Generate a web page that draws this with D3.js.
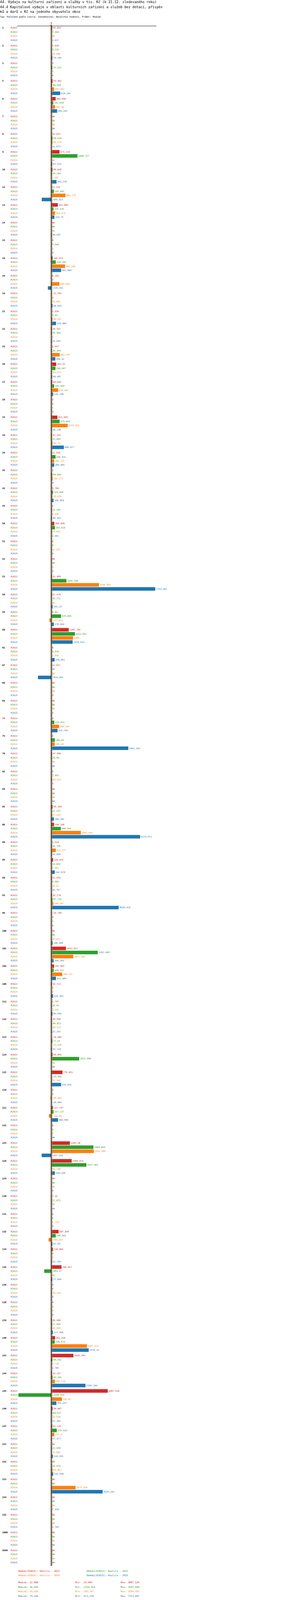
<!DOCTYPE html>
<html lang="cs">
<head>
  <meta charset="UTF-8">
  <title>44.4 Kapitálové výdaje v oblasti kulturních zařízení a služeb</title>
  <script src="https://d3js.org/d3.v7.min.js"></script>
  <style>
    body {
      margin: 0;
      background: #fff;
      overflow: hidden;
    }
    svg {
      display: block;
      font-family: "DejaVu Sans Mono", monospace;
    }
  </style>
</head>
<body>
  <script>

    const titleLines = [
      "44. Výdaje na kulturní zařízení a služby v tis. Kč (k 31.12. sledovaného roku)",
      "44.4 Kapitálové výdaje v oblasti kulturních zařízení a služeb bez dotací, příspěv",
      "ků a darů v Kč na jednoho obyvatele obce"
    ];
    const subtitle = "Typ: Počítaný podle vzorce, Vyhodnocení: Absolutní hodnoty, Průměr: Medián";

    const periods = ["R2022", "R2023", "R2024", "R2025"];
    const colors = ["#d62728", "#2ca02c", "#ff7f0e", "#1f77b4"];
    const highlighted = "74";

    const groups = [
      "1", "2", "3", "5", "6", "7", "8", "9", "10", "12",
      "13", "14", "15", "16", "18", "19", "21", "23", "25", "26",
      "27", "28", "33", "34", "39", "41", "42", "43", "50", "51",
      "52", "53", "56", "58", "60", "61", "67", "68", "69", "74",
      "75", "76", "82", "84", "85", "86", "88", "89", "90", "93",
      "96", "100", "101", "102", "106", "111", "112", "113", "114", "115",
      "118", "121", "122", "125", "126", "129", "130", "131", "132", "134",
      "135", "136", "138", "139", "140", "141", "144", "145", "146", "147",
      "151", "152", "153", "154", "155", "1000", "9999"
    ];

    // null = NA
    const r2022 = [
      64.093, 2.038, 0, 93.362, 303.686, null, 10.923, 571.139, 88.036, 11.312,
      452.605, null, 0, 104.473, 0.163, -21.916, 2.038, 28.337, 2.657, 343.42,
      69.095, 0, 423.659, 47.252, 11.916, 0, 9.709, 0, 209.968, 0,
      null, 51.085, 27.478, 5.93, 1202.793, 0, 11.871, null, null, 0,
      0, 47.986, 0, null, 95.189, 190.188, 2.618, 129.832, 22.429, 35.178,
      -10.794, null, 1013.811, 193.482, 28.713, 2.747, 39.556, -24.404, 90.065, 776.051,
      0, 117.747, 0, 1283.38, 1408.015, null, 7.25, 0, 507.588, 120.803,
      706.827, 0, 0, 28.998, 262.818, 1528.186, 52.327, 3887.526, 98.007, 61.135,
      null, null, null, null, null, null, null
    ];
    const r2023 = [
      7.954, 6.225, 73.123, 48.958, 142.019, null, 90.619, 1808.117, 28.184, 182.891,
      155.535, null, 7.683, 310.285, 0, 0, 0.64, 19.504, 36.965, 290.567,
      195.828, 0, 579.054, 23.803, 298.031, 68.583, 124.458, 13.245, 253.619, 0,
      null, 1045.388, 10.712, 674.464, 1631.051, 9.524, null, null, null, 210.822,
      249.03, 25.69, 7.047, null, 12.275, 660.441, 24.735, 14.003, 6.901, 87.133,
      0, null, 3202.609, 168.217, 0, 18.52, 49.013, 77.23, 1921.499, -29.448,
      0, 157.117, 0, 2904.844, 2417.364, null, 17.073, 0, 309.801, 0,
      -483.37, 0, 0, 27.856, 238.674, 84.532, 93.255, -2259.424, 60.627, 379.918,
      22.828, 18.479, null, null, null, null, null
    ];
    const r2024 = [
      null, 14.808, 0, 197.961, 256.49, null, 86.313, null, 7.88, 981.779,
      263.479, null, 0, 951.209, 559.926, 13.681, 89.287, 0, 582.143, 54.374,
      476.462, 0, 1133.591, 95.79, 204.137, 102.271, 79.475, 4.596, 14.663, 12.357,
      0, 3284.955, null, -127.072, 1500, 3.036, null, null, null, 540.183,
      240.49, null, 63.072, null, 27.816, 2042.644, 312.277, 3.981, 10.41, 148.307,
      0, 18.021, 1517.432, 760.737, 0, 0.342, 44.222, -22.598, null, 22.765,
      -48.366, -158.96, 0, 2932.988, 35.189, null, null, 1.729, -183.197, 0,
      null, 39.426, 0, 24.656, 2457.513, 6.734, 256.128, 735.92, 15.538, 211.3,
      -8.998, 85.467, 1675.339, null, null, null, null
    ];
    const r2025 = [
      1.017, 79.166, 0, 618.181, 405.032, null, 11.673, 62.379, 363.235, -655.313,
      216.75, 30.497, 0, 681.886, -229.163, 90.993, 329.009, 14.493, 280.52, 60.487,
      135.768, 0, 38.138, 868.877, 200.984, 0, 156.059, 49.931, 3.691, 0,
      0, 7153.607, 101.22, 178.044, 1470.519, 230.861, -913.256, 0, 0, 433.703,
      5302.162, null, 0, null, 180.282, 6115.671, 24.894, 242.978, 10.767, 4639.419,
      0, 100.968, 166.283, 322.449, 129.391, 85.654, 23.253, 43.718, null, 676.935,
      -20.004, 468.905, null, -657.534, 250.438, 0, null, 0, 81.59, 33.769,
      77.604, 0, 0, 117.308, 2578.22, 1.785, 2356.199, 353.537, 27.362, 37.977,
      118.335, 134.599, 3534.162, 7.654, 1.702, null, null
    ];

    const legendLabels = [
      "Období[R2022]: Realita - 2022",
      "Období[R2023]: Realita - 2023",
      "Období[R2024]: Realita - 2024",
      "Období[R2025]: Realita - 2025"
    ];
    const medians = [32.088, 36.965, 39.426, 79.166];
    const mins = [-24.404, -2259.424, -183.197, -913.256];
    const maxs = [3887.526, 3202.609, 3284.955, 7153.607];

    const series = [r2022, r2023, r2024, r2025];

    const fmt = v => v === null ? "NA" : String(+v.toFixed(3)).replace(".", ",");

    const width = 750, height = 7050;
    const axisY = 114, groupStep = 78;

    // okno bývá nižší než graf, celý obrázek se pak zmenší, aby se vešel
    const k = Math.min(1, (window.innerHeight || height) / height);

    const svg = d3.select("body")
                  .append("svg")
                  .attr("width", width * k)
                  .attr("height", height * k)
                  .attr("viewBox", `0 0 ${width} ${height}`)
                  .attr("preserveAspectRatio", "xMinYMin meet");

    // titulek
    svg.selectAll("text.title")
       .data(titleLines)
       .enter()
       .append("text")
       .attr("class", "title")
       .attr("x", 0)
       .attr("y", (d, i) => 13.5 + i * 22)
       .attr("font-size", "14.7px")
       .attr("fill", "#000")
       .text(d => d);

    svg.append("text")
       .attr("x", 0)
       .attr("y", 77)
       .attr("font-size", "10px")
       .attr("fill", "#000")
       .text(subtitle);

    const allValues = series.flat().filter(v => v !== null);
    const x = d3.scaleLinear()
                .domain([d3.min(allValues), d3.max(allValues)])
                .range([81, 684]);
    const x0 = x(0);

    const yGroup = d3.scaleBand()
                     .domain(groups)
                     .range([axisY, axisY + groups.length * groupStep - 6])
                     .paddingInner(6 / groupStep);
    const yRow = d3.scaleBand()
                   .domain(periods)
                   .range([0, yGroup.bandwidth()])
                   .paddingInner(0);

    const rows = [];
    groups.forEach((g, gi) => {
      periods.forEach((p, pi) => {
        rows.push({ group: g, period: p, pi: pi, value: series[pi][gi] });
      });
    });
    const rowY = d => yGroup(d.group) + yRow(d.period);
    const rowMid = d => rowY(d) + yRow.bandwidth() / 2;

    // osa
    const axis = svg.append("g")
                    .attr("transform", `translate(0,${axisY})`)
                    .call(d3.axisTop(x).tickValues([0]).tickSize(6).tickSizeOuter(0).tickFormat(d => "0"));
    axis.select(".domain")
        .attr("d", "M75,0.5H689")
        .attr("stroke", "#000")
        .attr("stroke-width", 1.6);
    axis.selectAll("text")
        .attr("font-family", "DejaVu Sans Mono, monospace")
        .attr("font-size", "10px")
        .attr("fill", "#000");

    // popisky skupin
    svg.selectAll("text.group")
       .data(groups)
       .enter()
       .append("text")
       .attr("class", "group")
       .attr("x", 10)
       .attr("y", d => yGroup(d) + yRow.bandwidth() / 2)
       .attr("dy", "0.35em")
       .attr("font-size", "10px")
       .attr("font-weight", "bold")
       .attr("fill", d => d === highlighted ? "#ff0000" : "#000")
       .text(d => d);

    svg.selectAll("text.period")
       .data(rows)
       .enter()
       .append("text")
       .attr("class", "period")
       .attr("x", 47)
       .attr("y", rowMid)
       .attr("dy", "0.35em")
       .attr("font-size", "10px")
       .attr("fill", d => colors[d.pi])
       .text(d => d.period);

    // sloupce
    const barPad = 1.2;
    svg.selectAll("rect.bar")
       .data(rows.filter(d => d.value !== null && d.value !== 0))
       .enter()
       .append("rect")
       .attr("class", "bar")
       .attr("x", d => Math.min(x(d.value), x0))
       .attr("y", d => rowY(d) + barPad)
       .attr("width", d => Math.abs(x(d.value) - x0))
       .attr("height", yRow.bandwidth() - 2 * barPad)
       .attr("fill", d => colors[d.pi]);

    // mediány a nulová čára
    const lineBottom = axisY + groups.length * groupStep;
    svg.selectAll("line.median")
       .data(medians)
       .enter()
       .append("line")
       .attr("class", "median")
       .attr("x1", d => x(d))
       .attr("x2", d => x(d))
       .attr("y1", axisY)
       .attr("y2", lineBottom)
       .attr("stroke", (d, i) => colors[i])
       .attr("stroke-width", 1.5)
       .attr("stroke-dasharray", (d, i) => i === 3 ? "5,3" : null);

    svg.append("line")
       .attr("x1", x0 - 0.6)
       .attr("x2", x0 - 0.6)
       .attr("y1", axisY - 6)
       .attr("y2", lineBottom)
       .attr("stroke", "#000")
       .attr("stroke-width", 2.4);

    svg.selectAll("text.value")
       .data(rows)
       .enter()
       .append("text")
       .attr("class", "value")
       .attr("x", d => (d.value === null ? x0 : Math.max(x(d.value), x0)) + 3.5)
       .attr("y", rowMid)
       .attr("dy", "0.35em")
       .attr("font-size", "10px")
       .attr("fill", d => colors[d.pi])
       .text(d => fmt(d.value));

    // legenda
    svg.selectAll("text.legend")
       .data(legendLabels)
       .enter()
       .append("text")
       .attr("class", "legend")
       .attr("x", (d, i) => i % 2 === 0 ? 80 : 381)
       .attr("y", (d, i) => 6926 + Math.floor(i / 2) * 20)
       .attr("font-size", "10.5px")
       .attr("fill", (d, i) => colors[i])
       .text(d => d);

    const stats = svg.selectAll("g.stats")
                     .data(periods)
                     .enter()
                     .append("g")
                     .attr("class", "stats")
                     .attr("transform", (d, i) => `translate(0,${6976 + i * 20})`)
                     .attr("font-size", "10.5px")
                     .attr("fill", (d, i) => colors[i]);
    stats.append("text").attr("x", 80).text((d, i) => "Medián: " + fmt(medians[i]));
    stats.append("text").attr("x", 331).text((d, i) => "Min: " + fmt(mins[i]));
    stats.append("text").attr("x", 532).text((d, i) => "Max: " + fmt(maxs[i]));

  </script>
</body>
</html>
